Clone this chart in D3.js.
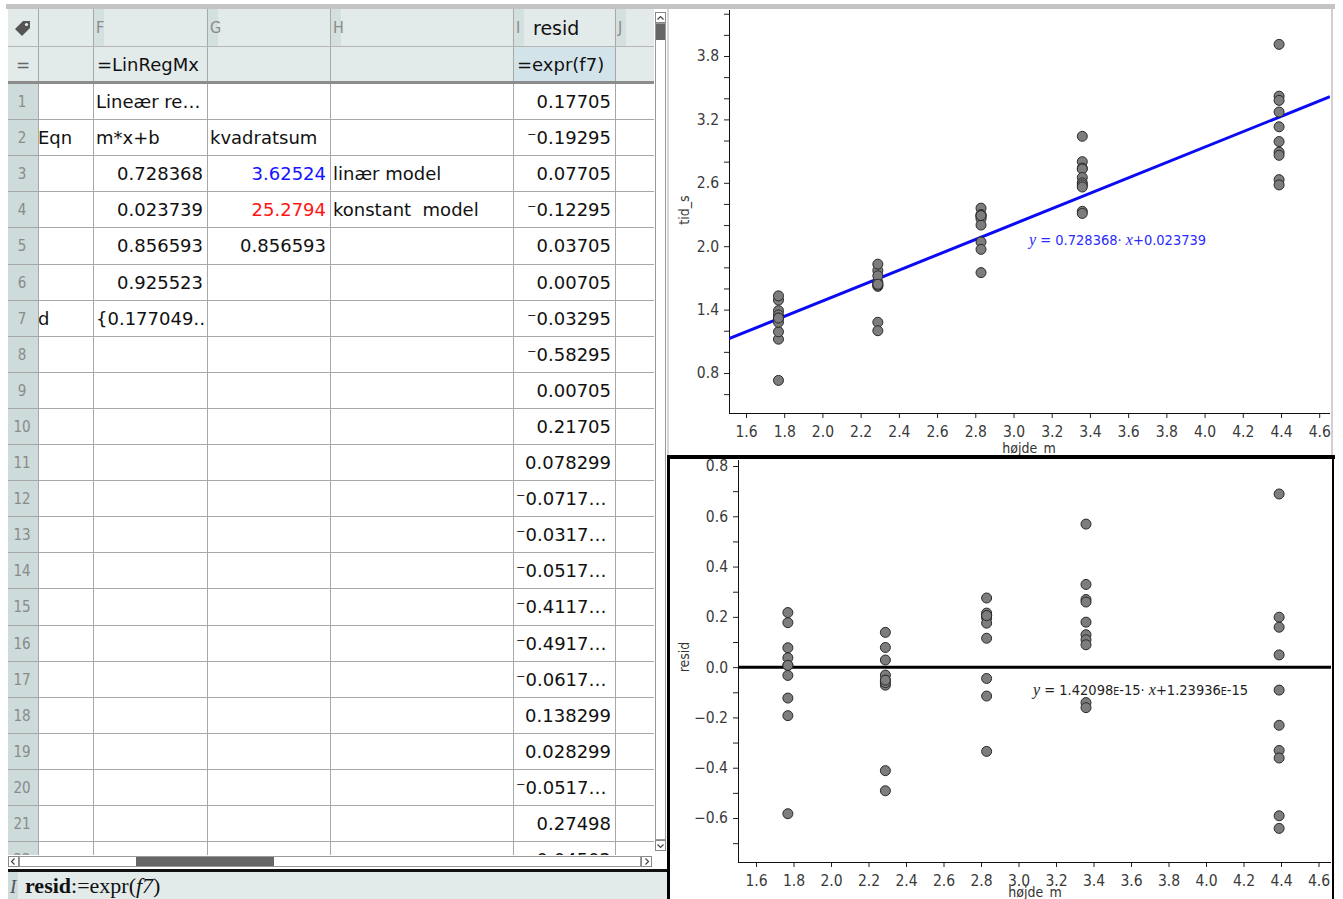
<!DOCTYPE html>
<html>
<head>
<meta charset="utf-8">
<script src="https://cdn.jsdelivr.net/npm/d3@7"></script>
<style>
body { margin: 0; background: #fff; }
text { white-space: pre; }
</style>
</head>
<body>
<script>
/* TI-Nspire side: regneark + to grafer (tid_s mod højde_m og residualer) */

// data aflæst fra grafen / regnearket
var hojde = [1.77,1.77,1.77,1.77,1.77,1.77,1.77,1.77,1.77,1.77,
	2.29,2.29,2.29,2.29,2.29,2.29,2.29,2.29,2.29,2.29,
	2.83,2.83,2.83,2.83,2.83,2.83,2.83,2.83,2.83,2.83,
	3.36,3.36,3.36,3.36,3.36,3.36,3.36,3.36,3.36,3.36,
	4.39,4.39,4.39,4.39,4.39,4.39,4.39,4.39,4.39,4.39];
var tid = [1.49,1.12,1.39,1.19,1.35,1.32,1.28,0.73,1.32,1.53,
	1.77,1.62,1.66,1.64,1.28,1.20,1.63,1.83,1.72,1.64,
	2.36,2.04,2.30,2.29,2.28,2.26,2.20,1.97,1.75,2.29,
	3.04,2.80,2.74,2.73,2.65,2.60,2.58,2.56,2.33,2.31,
	3.91,3.42,3.38,3.27,3.13,2.99,2.89,2.86,2.63,2.58];
var resid = [0.17705,-0.19295,0.07705,-0.12295,0.03705,0.00705,-0.03295,-0.58295,0.00705,0.21705,
	0.078299,-0.071701,-0.031701,-0.051701,-0.411701,-0.491701,-0.061701,0.138299,0.028299,-0.051701,
	0.27498,-0.04502,0.21498,0.20498,0.19498,0.17498,0.11498,-0.11502,-0.33502,0.20498,
	0.568945,0.328945,0.268945,0.258945,0.178945,0.128945,0.108945,0.088945,-0.141055,-0.161055,
	0.688725,0.198725,0.158725,0.048725,-0.091275,-0.231275,-0.331275,-0.361275,-0.591275,-0.641275];

var linReg = {m: 0.728368, b: 0.023739};
var residReg = {m: 1.42098e-15, b: 1.23936e-15};

// regnearkets tekster
var colLetters = ["F", "G", "H", "I", "J"];
var colE = ["", "Eqn", "", "", "", "", "d"];
var colF = ["Lineær re…", "m*x+b", "0.728368", "0.023739", "0.856593", "0.925523", "{0.177049‥"];
var colG = ["", "kvadratsum", "3.62524", "25.2794", "0.856593", "", ""];
var colGColor = ["", "", "#1414ff", "#ff1414", "", "", ""];
var colH = ["", "", "linær model", "konstant  model", "", "", ""];
var residText = ["0.17705", "⁻0.19295", "0.07705", "⁻0.12295", "0.03705", "0.00705", "⁻0.03295",
	"⁻0.58295", "0.00705", "0.21705", "0.078299", "⁻0.0717…", "⁻0.0317…", "⁻0.0517…",
	"⁻0.4117…", "⁻0.4917…", "⁻0.0617…", "0.138299", "0.028299", "⁻0.0517…", "0.27498", "⁻0.04502"];

var SANS = "DejaVu Sans, sans-serif";
var COND = "DejaVu Sans Condensed, DejaVu Sans, sans-serif";
var SERIF = "Liberation Serif, DejaVu Serif, serif";

var svg = d3.select("body").append("svg")
	.attr("width", 1343)
	.attr("height", 899)
	.attr("font-family", SANS);
var defs = svg.append("defs");

/* ---------- regneark ---------- */
var colX = [8, 38, 93, 207, 330, 513, 615, 654];
var rowTop = 83, rowH = 36.1, sheetBottom = 855;
var sheet = svg.append("g");

defs.append("clipPath").attr("id", "sheetClip").append("rect")
	.attr("x", 8).attr("y", 9).attr("width", 646).attr("height", sheetBottom - 9);

// baggrunde
sheet.append("rect").attr("x", 8).attr("y", 9).attr("width", 646).attr("height", 73).attr("fill", "#e3eaea");
sheet.append("rect").attr("x", 513).attr("y", 46).attr("width", 102).attr("height", 36).attr("fill", "#d3e3ea");
sheet.append("rect").attr("x", 8).attr("y", 84).attr("width", 30).attr("height", sheetBottom - 84).attr("fill", "#cddbdb");
sheet.append("rect").attr("x", 38).attr("y", 84).attr("width", 616).attr("height", sheetBottom - 84).attr("fill", "#fff");

// kolonnebogstaver
colLetters.forEach(function(L, i) {
	var cx = colX[i + 2];
	sheet.append("rect").attr("x", cx).attr("y", 9).attr("width", 11).attr("height", 37).attr("fill", "#d4dfdf");
	sheet.append("text").attr("x", cx + 3).attr("y", 33).attr("font-size", 16)
		.attr("fill", "#8a8a8a").attr("font-family", COND).text(L);
});
sheet.append("text").attr("x", 533).attr("y", 35).attr("font-size", 19).attr("fill", "#111").text("resid");
sheet.append("text").attr("x", 97).attr("y", 71).attr("font-size", 18).attr("fill", "#111").text("=LinRegMx");
sheet.append("text").attr("x", 517).attr("y", 71).attr("font-size", 18).attr("fill", "#111").text("=expr(f7)");
sheet.append("text").attr("x", 23).attr("y", 71).attr("font-size", 17).attr("fill", "#666")
	.attr("text-anchor", "middle").text("=");
// mærke-ikon
sheet.append("path").attr("d", "M15,29 L23,21 L30,21 L30,28 L22,36 Z").attr("fill", "#555");
sheet.append("circle").attr("cx", 26.5).attr("cy", 24.5).attr("r", 1.6).attr("fill", "#e3eaea");

// gitter
var grid = sheet.append("g").attr("clip-path", "url(#sheetClip)");
colX.forEach(function(cx, i) {
	if (i == 0) return;
	grid.append("line").attr("x1", cx + 0.5).attr("x2", cx + 0.5).attr("y1", 9).attr("y2", sheetBottom)
		.attr("stroke", "#a8a8a8");
});
grid.append("line").attr("x1", 8).attr("x2", 654).attr("y1", 46.5).attr("y2", 46.5).attr("stroke", "#b5b5b5");
d3.range(1, 23).forEach(function(r) {
	var yy = Math.round(rowTop + r * rowH) + 0.5;
	grid.append("line").attr("x1", 8).attr("x2", 654).attr("y1", yy).attr("y2", yy).attr("stroke", "#a8a8a8");
});
sheet.append("rect").attr("x", 8).attr("y", 81).attr("width", 646).attr("height", 3).attr("fill", "#8c8c8c");

// rækkenumre og celler
var cells = sheet.append("g").attr("clip-path", "url(#sheetClip)");
function rowBase(r) { return rowTop + (r - 1) * rowH + 25; }
d3.range(1, 23).forEach(function(r) {
	cells.append("text").attr("x", 22).attr("y", rowBase(r) - 1).attr("font-size", 15)
		.attr("fill", "#8a8a8a").attr("text-anchor", "middle").attr("font-family", COND).text(r);
});
function isNum(t) { return /^[⁻\-]?[0-9.]+$/.test(t); }
function putCell(t, r, c, color) {
	if (!t) return;
	var num = isNum(t);
	cells.append("text")
		.attr("x", num ? colX[c + 1] - 4 : colX[c] + 3)
		.attr("y", rowBase(r))
		.attr("font-size", 18)
		.attr("fill", color || "#111")
		.attr("text-anchor", num ? "end" : "start")
		.text(t);
}
colE.forEach(function(t, i) {
	if (!t) return;
	cells.append("text").attr("x", 38).attr("y", rowBase(i + 1)).attr("font-size", 18)
		.attr("fill", "#111").text(t);
});
colF.forEach(function(t, i) { putCell(t, i + 1, 2); });
colG.forEach(function(t, i) { putCell(t, i + 1, 3, colGColor[i]); });
colH.forEach(function(t, i) { putCell(t, i + 1, 4); });
residText.forEach(function(t, i) {
	var trunc = t.slice(-1) == "…";
	cells.append("text")
		.attr("x", trunc ? 516 : 611)
		.attr("y", rowBase(i + 1))
		.attr("font-size", 18)
		.attr("fill", "#111")
		.attr("text-anchor", trunc ? "start" : "end")
		.text(t);
});

// rullebjælker
function arrowBox(x0, y0, dir) {
	sheet.append("rect").attr("x", x0 + 0.5).attr("y", y0 + 0.5).attr("width", 10).attr("height", 10)
		.attr("fill", "#fff").attr("stroke", "#888");
	var p = {up: "M2,7 L5,4 L8,7", down: "M2,4 L5,7 L8,4", left: "M6,2 L3,5 L6,8", right: "M4,2 L7,5 L4,8"}[dir];
	sheet.append("path").attr("d", p).attr("transform", "translate(" + (x0 + 0.5) + "," + (y0 + 0.5) + ")")
		.attr("fill", "none").attr("stroke", "#444").attr("stroke-width", 1.2);
}
sheet.append("rect").attr("x", 654).attr("y", 9).attr("width", 13).attr("height", 860).attr("fill", "#fff");
sheet.append("rect").attr("x", 655.5).attr("y", 23.5).attr("width", 10).attr("height", 816).attr("fill", "#fff").attr("stroke", "#999");
sheet.append("rect").attr("x", 656).attr("y", 24).attr("width", 9).attr("height", 16).attr("fill", "#666");
arrowBox(655, 12, "up");
arrowBox(655, 840, "down");
sheet.append("rect").attr("x", 8).attr("y", 855).attr("width", 646).attr("height", 14).attr("fill", "#fff");
sheet.append("rect").attr("x", 19.5).attr("y", 856.5).attr("width", 621).attr("height", 10).attr("fill", "#fff").attr("stroke", "#999");
sheet.append("rect").attr("x", 136).attr("y", 857).attr("width", 138).attr("height", 9).attr("fill", "#666");
arrowBox(8, 856, "left");
arrowBox(641, 856, "right");

// indtastningslinje
sheet.append("rect").attr("x", 8).attr("y", 870).attr("width", 660).attr("height", 29).attr("fill", "#e2eaea");
sheet.append("rect").attr("x", 8).attr("y", 869).attr("width", 660).attr("height", 3).attr("fill", "#111");
sheet.append("rect").attr("x", 8).attr("y", 872).attr("width", 10).attr("height", 27).attr("fill", "#cfdcdc");
sheet.append("text").attr("x", 10).attr("y", 893).attr("font-size", 19).attr("fill", "#555")
	.attr("font-family", SERIF).attr("font-style", "italic").text("I");
var entry = sheet.append("text").attr("x", 25).attr("y", 893).attr("font-size", 22)
	.attr("font-family", SERIF).attr("fill", "#111");
entry.append("tspan").attr("font-weight", "bold").text("resid");
entry.append("tspan").text(":=expr(");
entry.append("tspan").attr("font-style", "italic").text("f7");
entry.append("tspan").text(")");

/* ---------- grafer ---------- */
function onLabel(d, start, step) {
	var k = (d - start) / step;
	return Math.abs(k - Math.round(k)) < 1e-6;
}
var fmt = d3.format(".1f");

function drawPlot(c) {
	var g = svg.append("g");
	var x = d3.scaleLinear().domain(c.xCal).range(c.xPx);
	var y = d3.scaleLinear().domain(c.yCal).range(c.yPx);

	defs.append("clipPath").attr("id", c.id).append("rect")
		.attr("x", c.left).attr("y", c.top)
		.attr("width", c.right - c.left).attr("height", c.bottom - c.top);

	var yAxis = d3.axisLeft(y)
		.tickValues(c.yTicks)
		.tickSize(5).tickSizeOuter(0).tickPadding(5)
		.tickFormat(function(d) { return onLabel(d, c.yLab[0], c.yLab[1]) ? fmt(d) : ""; });
	var xAxis = d3.axisBottom(x)
		.tickValues(c.xTicks)
		.tickSize(5).tickSizeOuter(0).tickPadding(8)
		.tickFormat(fmt);

	var ya = g.append("g").attr("transform", "translate(" + c.left + ",0)").call(yAxis);
	var xa = g.append("g").attr("transform", "translate(0," + c.bottom + ")").call(xAxis);
	[ya, xa].forEach(function(a) {
		a.attr("font-family", COND);
		a.select(".domain").remove();
		a.selectAll("line").attr("stroke", "#222");
		a.selectAll("text").attr("font-size", 15.5).attr("fill", "#3a3a3a");
	});
	g.append("line").attr("x1", c.left + 0.5).attr("x2", c.left + 0.5).attr("y1", c.top).attr("y2", c.bottom + 1)
		.attr("stroke", "#111");
	g.append("line").attr("x1", c.left).attr("x2", c.right).attr("y1", c.bottom + 0.5).attr("y2", c.bottom + 0.5)
		.attr("stroke", "#111");

	// aksetitler
	g.append("text").attr("x", c.xTitle[0]).attr("y", c.xTitle[1]).attr("font-size", 14)
		.attr("font-family", COND).attr("fill", "#333").attr("text-anchor", "middle").text(c.xName);
	g.append("text").attr("transform", "translate(" + c.yTitle[0] + "," + c.yTitle[1] + ") rotate(-90)")
		.attr("font-size", 14).attr("font-family", COND)
		.attr("fill", "#333").attr("text-anchor", "middle").text(c.yName);

	var inner = g.append("g").attr("clip-path", "url(#" + c.id + ")");
	var x0 = x.invert(c.left), x1 = x.invert(c.right);
	inner.append("line")
		.attr("x1", x(x0)).attr("y1", y(c.reg.m * x0 + c.reg.b))
		.attr("x2", x(x1)).attr("y2", y(c.reg.m * x1 + c.reg.b))
		.attr("stroke", c.lineColor).attr("stroke-width", 3);

	inner.selectAll(".dot")
		.data(c.xs.map(function(v, i) { return [v, c.ys[i]]; }))
		.enter().append("circle")
			.attr("class", "dot")
			.attr("r", 5)
			.attr("cx", function(d) { return x(d[0]); })
			.attr("cy", function(d) { return y(d[1]); })
			.attr("fill", "#7d7d7d")
			.attr("stroke", "#2a2a2a")
			.attr("stroke-width", 1);

	// ligning
	var eq = g.append("text").attr("x", c.eqPos[0]).attr("y", c.eqPos[1])
		.attr("font-size", 14.5).attr("font-family", COND).attr("fill", c.eqColor);
	c.eq.forEach(function(p) {
		var s = eq.append("tspan").text(p[0]);
		if (p[1] == "v") s.attr("font-family", SERIF).attr("font-style", "italic").attr("font-size", 16);
		if (p[1] == "e") s.attr("font-size", 10.5);
	});
	return g;
}

// ramme og paneler
svg.append("rect").attr("x", 6).attr("y", 4).attr("width", 1329).attr("height", 5).attr("fill", "#c4c4c4");
svg.append("rect").attr("x", 1331).attr("y", 9).attr("width", 2).attr("height", 446).attr("fill", "#d0d0d0");
svg.append("rect").attr("x", 667).attr("y", 9).attr("width", 2).attr("height", 446).attr("fill", "#d6d6d6");

drawPlot({
	id: "topClip",
	left: 729, right: 1330, top: 10, bottom: 413,
	xCal: [1.6, 4.4], xPx: [746, 1281],
	yCal: [0.8, 3.8], yPx: [373, 56],
	xTicks: d3.range(16, 47, 2).map(function(v) { return v / 10; }),
	yTicks: d3.range(6, 43, 2).map(function(v) { return v / 10; }),
	yLab: [0.8, 0.6],
	xs: hojde, ys: tid,
	reg: linReg, lineColor: "#0a0af5",
	xName: "højde_m", yName: "tid_s",
	xTitle: [1029, 453], yTitle: [689, 210],
	eqColor: "#2a2aff", eqPos: [1029, 245],
	eq: [["y", "v"], [" = 0.728368· ", ""], ["x", "v"], ["+0.023739", ""]]
});

drawPlot({
	id: "botClip",
	left: 738, right: 1331, top: 460, bottom: 862,
	xCal: [1.6, 4.4], xPx: [756, 1281],
	yCal: [-0.6, 0.8], yPx: [818, 466],
	xTicks: d3.range(16, 47, 2).map(function(v) { return v / 10; }),
	yTicks: d3.range(-7, 9, 1).map(function(v) { return v / 10; }),
	yLab: [0, 0.2],
	xs: hojde, ys: resid,
	reg: residReg, lineColor: "#000",
	xName: "højde_m", yName: "resid",
	xTitle: [1035, 897], yTitle: [689, 657],
	eqColor: "#222", eqPos: [1033, 695],
	eq: [["y", "v"], [" = 1.42098", ""], ["E", "e"], ["-15· ", ""], ["x", "v"], ["+1.23936", ""], ["E", "e"], ["-15", ""]]
});

// aktivt panel: sort ramme
svg.append("rect").attr("x", 667).attr("y", 455).attr("width", 668).attr("height", 4).attr("fill", "#000");
svg.append("rect").attr("x", 667).attr("y", 455).attr("width", 3).attr("height", 444).attr("fill", "#000");
svg.append("rect").attr("x", 1332).attr("y", 455).attr("width", 2).attr("height", 444).attr("fill", "#000");
</script>
</body>
</html>
